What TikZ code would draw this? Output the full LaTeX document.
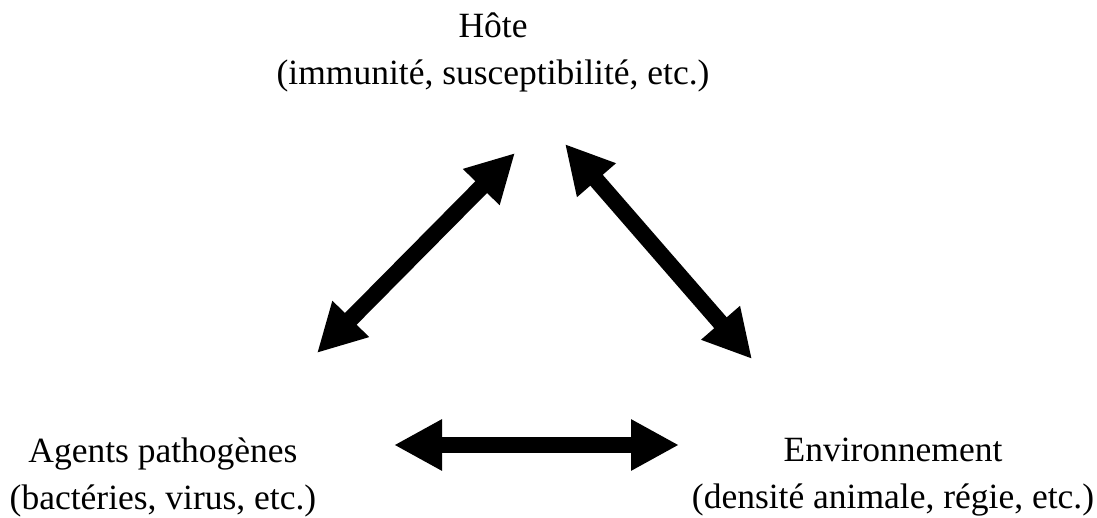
\documentclass[tikz,border=0pt]{standalone}
\usepackage{fontspec}
\setmainfont{Liberation Serif}
\usetikzlibrary{arrows.meta}
\begin{document}
\begin{tikzpicture}[x=1pt,y=-1pt,
  lbl/.style={align=center,font=\fontsize{35.5}{47}\selectfont,inner sep=0pt},
  dbl/.style={line width=16.5pt,{Triangle[width=48pt,length=48pt]}-{Triangle[width=48pt,length=48pt]}}]
\useasboundingbox (0,0) rectangle (1097,518);
\node[lbl] (hote) at (493,52) {Hôte\\(immunité, susceptibilité, etc.)};
\node[lbl] (agent) at (163,477) {Agents pathogènes\\(bactéries, virus, etc.)};
\node[lbl] (env) at (893,477) {Environnement\\(densité animale, régie, etc.)};
\coordinate (a1) at (515,153);
\coordinate (a2) at (317,353);
\coordinate (b1) at (565,144);
\coordinate (b2) at (752,359);
\coordinate (c1) at (394,445);
\coordinate (c2) at (679,445);
\draw[dbl] (a2) -- (a1);
\draw[dbl] (b1) -- (b2);
\draw[dbl] (c1) -- (c2);
\end{tikzpicture}
\end{document}
